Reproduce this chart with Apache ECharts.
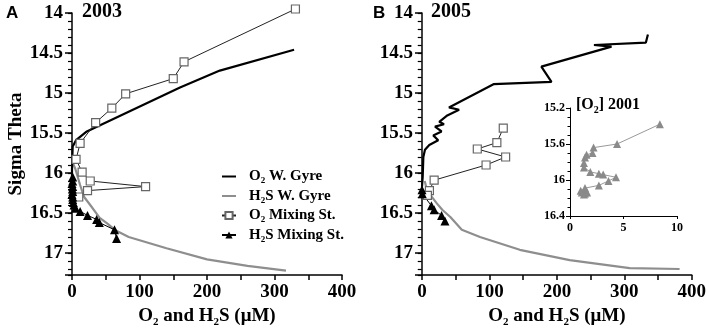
<!DOCTYPE html>
<html>
<head>
<meta charset="utf-8">
<script src="https://cdn.jsdelivr.net/npm/echarts@6/dist/echarts.min.js"></script>
<style>
  html, body { margin: 0; padding: 0; background: #fff; }
  #chart { width: 709px; height: 335px; }
</style>
</head>
<body>
<div id="chart"></div>
<script>
// each point: [concentration (uM), sigma theta]
const o2Gyre2003 = [[329, 14.46], [219, 14.72], [160, 14.93], [22, 15.48], [6, 15.59], [1, 15.67], [0.5, 15.8], [0, 15.95], [0, 16.1]];
const h2sGyre2003 = [[0, 15.85], [5, 15.95], [12, 16.15], [18, 16.3], [27, 16.4], [41, 16.56], [52, 16.63], [65, 16.72], [84, 16.8], [140, 16.94], [200, 17.08], [260, 17.16], [317, 17.22]];
const o2Mix2003 = [[331, 13.95], [166, 14.61], [150, 14.82], [79.5, 15.01], [59, 15.19], [35, 15.37], [12, 15.63], [6, 15.83], [15, 15.99], [27, 16.1], [109, 16.17], [23, 16.22], [10, 16.3]];
const h2sMix2003 = [[1, 16.05], [1, 16.1], [0, 16.13], [1, 16.17], [0.5, 16.2], [1, 16.23], [0, 16.27], [1, 16.3], [1, 16.33], [2, 16.37], [3, 16.4], [5, 16.44], [12, 16.48], [23, 16.53], [36.5, 16.58], [40.5, 16.62], [63, 16.71], [66, 16.82]];

const o2Gyre2005 = [[335, 14.27], [332, 14.37], [255, 14.4], [281, 14.42], [177, 14.67], [192, 14.86], [106, 14.89], [40, 15.18], [55, 15.21], [37.5, 15.28], [25.6, 15.36], [32.6, 15.39], [19.3, 15.42], [29, 15.48], [16.7, 15.53], [24, 15.59], [10.8, 15.65], [4.4, 15.71], [2, 15.8], [1.5, 15.93], [1, 16.05], [0, 16.17]];
const h2sGyre2005 = [[4, 16.1], [7, 16.2], [12, 16.27], [22, 16.38], [30, 16.46], [42, 16.55], [59, 16.71], [86, 16.8], [145, 16.96], [219, 17.09], [308, 17.19], [382, 17.2]];
const o2Mix2005 = [[120.5, 15.44], [111, 15.62], [82, 15.7], [124, 15.8], [95, 15.9], [18, 16.09], [11, 16.22], [8, 16.28]];
const h2sMix2005 = [[0, 16.21], [0.5, 16.26], [14, 16.41], [18, 16.46], [29, 16.53], [34, 16.6]];

const o2Inset2001 = [[8.4, 15.38], [4.4, 15.6], [2.2, 15.64], [2.1, 15.7], [1.55, 15.72], [1.4, 15.75], [1.3, 15.81], [1.3, 15.86], [1.9, 15.91], [2.7, 15.93], [3.1, 15.94], [4.3, 15.97], [3.6, 16.01], [2.7, 16.06], [1.4, 16.09], [1.0, 16.12], [1.1, 16.14], [1.4, 16.15], [1.6, 16.14], [1.3, 16.16]];

const serif = '"Liberation Serif", "DejaVu Serif", serif';

function rich(size) {
    return {
        b: { fontFamily: serif, fontWeight: 'bold', fontSize: size, color: '#000' },
        s: { fontFamily: serif, fontWeight: 'bold', fontSize: Math.round(size * 0.6), color: '#000',
             verticalAlign: 'top', padding: [Math.round(size * 0.6), 0, 0, 0] }
    };
}

const legendText = {
    'O2 W. Gyre': '{b|O}{s|2}{b| W. Gyre}',
    'H2S W. Gyre': '{b|H}{s|2}{b|S W. Gyre}',
    'O2 Mixing St.': '{b|O}{s|2}{b| Mixing St.}',
    'H2S Mixing St.': '{b|H}{s|2}{b|S Mixing St.}'
};

const chart = echarts.init(document.getElementById('chart'));

function xAxisFor(gridIndex) {
    return {
        type: 'value', gridIndex: gridIndex, min: 0, max: 400, interval: 50,
        name: '{b|O}{s|2}{b| and H}{s|2}{b|S (μM)}',
        nameLocation: 'middle', nameGap: 22,
        nameTextStyle: { rich: rich(19) },
        axisLine: { show: true, lineStyle: { color: '#000', width: 1.5 } },
        axisTick: { show: true, length: 5, lineStyle: { color: '#000', width: 1.5 } },
        splitLine: { show: false },
        axisLabel: {
            margin: 8, color: '#000', fontFamily: serif, fontWeight: 'bold', fontSize: 19,
            formatter: v => (v % 100 === 0 ? v : '')
        }
    };
}

// main axis (labels + 0.5 ticks) and, as second axis of the same grid, the 0.1 minor ticks.
// the second axis sits on the right by default; a negative offset brings it back onto the left edge
function yAxesFor(gridIndex, withName) {
    return [{
        type: 'value', gridIndex: gridIndex, inverse: true, min: 14, max: 17.275, interval: 0.5,
        name: withName ? 'Sigma Theta' : '', nameLocation: 'middle', nameGap: 46,
        nameTextStyle: { fontFamily: serif, fontWeight: 'bold', fontSize: 19, color: '#000' },
        axisLine: { show: true, lineStyle: { color: '#000', width: 1.5 } },
        axisTick: { show: true, length: 7, lineStyle: { color: '#000', width: 1.5 } },
        splitLine: { show: false },
        axisLabel: {
            margin: 9, color: '#000', fontFamily: serif, fontWeight: 'bold', fontSize: 19,
            formatter: v => (Math.abs(v * 2 - Math.round(v * 2)) < 1e-6 ? v : '')
        }
    }, {
        type: 'value', gridIndex: gridIndex, inverse: true, min: 14, max: 17.275, interval: 0.1,
        offset: -270,
        axisLine: { show: false },
        axisTick: { show: true, inside: true, length: 4, lineStyle: { color: '#000', width: 1.2 } },
        splitLine: { show: false },
        axisLabel: { show: false }
    }];
}

function lineSeries(name, data, xi, yi, style) {
    return Object.assign({
        name: name, type: 'line', xAxisIndex: xi, yAxisIndex: yi, data: data,
        clip: false, animation: false
    }, style);
}

const gyreO2Style = { symbol: 'none', lineStyle: { color: '#000', width: 2.2 }, itemStyle: { color: '#000' } };
const gyreH2SStyle = { symbol: 'none', lineStyle: { color: '#8e8e8e', width: 2.2 }, itemStyle: { color: '#8e8e8e' } };
const mixO2Style = {
    symbol: 'rect', symbolSize: 8,
    lineStyle: { color: '#222', width: 1 },
    itemStyle: { color: '#fff', borderColor: '#666', borderWidth: 1.2 }
};
const mixH2SStyle = {
    symbol: 'triangle', symbolSize: 9,
    lineStyle: { color: '#000', width: 1 },
    itemStyle: { color: '#000' }
};

const hiddenIcon = { color: 'rgba(0,0,0,0)', borderWidth: 0, opacity: 0 };

const option = {
    backgroundColor: '#fff',
    animation: false,
    grid: [
        { left: 72, top: 13, width: 270, height: 262 },
        { left: 422, top: 13, width: 270, height: 262 },
        { left: 570, top: 108, width: 107, height: 108 }
    ],
    xAxis: [
        xAxisFor(0),
        xAxisFor(1),
        {
            type: 'value', gridIndex: 2, min: 0, max: 10, interval: 5,
            axisLine: { show: true, lineStyle: { color: '#000', width: 1 } },
            axisTick: { show: true, length: 3, lineStyle: { color: '#000' } },
            splitLine: { show: false },
            axisLabel: { margin: 6, color: '#000', fontFamily: serif, fontWeight: 'bold', fontSize: 12 }
        }
    ],
    yAxis: yAxesFor(0, true).concat(yAxesFor(1, false)).concat([{
        type: 'value', gridIndex: 2, inverse: true, min: 15.2, max: 16.4, interval: 0.4,
        axisLine: { show: true, lineStyle: { color: '#000', width: 1 } },
        axisTick: { show: true, length: 4, lineStyle: { color: '#000' } },
        minorTick: { show: true, splitNumber: 4, length: 2.5, lineStyle: { color: '#000' } },
        splitLine: { show: false },
        axisLabel: { margin: 5, color: '#000', fontFamily: serif, fontWeight: 'bold', fontSize: 12 }
    }]),
    legend: {
        orient: 'vertical', left: 216, top: 164,
        itemWidth: 14, itemHeight: 9, itemGap: 3,
        data: [
            { name: 'O2 W. Gyre', itemStyle: hiddenIcon },
            { name: 'H2S W. Gyre', itemStyle: hiddenIcon },
            { name: 'O2 Mixing St.' },
            { name: 'H2S Mixing St.' }
        ],
        formatter: name => legendText[name],
        textStyle: { padding: [0, 0, 0, 8], rich: rich(15) },
        selectedMode: false
    },
    series: [
        lineSeries('H2S W. Gyre', h2sGyre2003, 0, 0, gyreH2SStyle),
        lineSeries('O2 W. Gyre', o2Gyre2003, 0, 0, gyreO2Style),
        lineSeries('O2 Mixing St.', o2Mix2003, 0, 0, mixO2Style),
        lineSeries('H2S Mixing St.', h2sMix2003, 0, 0, mixH2SStyle),
        lineSeries('H2S W. Gyre', h2sGyre2005, 1, 2, gyreH2SStyle),
        lineSeries('O2 W. Gyre', o2Gyre2005, 1, 2, gyreO2Style),
        lineSeries('O2 Mixing St.', o2Mix2005, 1, 2, mixO2Style),
        lineSeries('H2S Mixing St.', h2sMix2005, 1, 2, mixH2SStyle),
        lineSeries('O2 2001', o2Inset2001, 2, 4, {
            symbol: 'triangle', symbolSize: 8,
            lineStyle: { color: '#999', width: 1 },
            itemStyle: { color: '#8a8a8a' }
        })
    ],
    graphic: [
        { type: 'text', left: 6, top: 5, style: { text: 'A', font: 'bold 17px "Liberation Sans", Arial, sans-serif', fill: '#000' } },
        { type: 'text', left: 82, top: 2, style: { text: '2003', font: 'bold 20px ' + serif, fill: '#000' } },
        { type: 'text', left: 373, top: 5, style: { text: 'B', font: 'bold 17px "Liberation Sans", Arial, sans-serif', fill: '#000' } },
        { type: 'text', left: 431, top: 2, style: { text: '2005', font: 'bold 20px ' + serif, fill: '#000' } },
        { type: 'text', left: 576, top: 97, style: { text: '{b|[O}{s|2}{b|] 2001}', rich: rich(16) } }
    ]
};

chart.setOption(option);
</script>
</body>
</html>
